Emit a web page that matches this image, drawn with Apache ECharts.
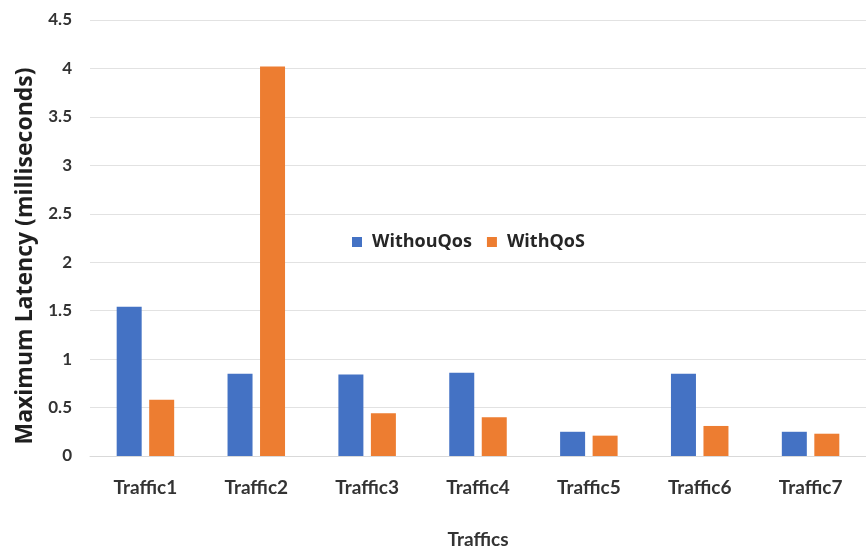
<!DOCTYPE html>
<html>
<head>
<meta charset="utf-8">
<script src="https://cdn.jsdelivr.net/npm/echarts@6/dist/echarts.min.js"></script>
<style>
  html, body { margin: 0; padding: 0; background: #ffffff; }
  #chart { width: 866px; height: 554px; }
</style>
</head>
<body>
<div id="chart"></div>
<script>
// Maximum latency per traffic class, with and without QoS
const categories = ['Traffic1', 'Traffic2', 'Traffic3', 'Traffic4', 'Traffic5', 'Traffic6', 'Traffic7'];
const withoutQos = [1.54, 0.85, 0.84, 0.86, 0.25, 0.85, 0.25];
const withQos = [0.58, 4.02, 0.44, 0.40, 0.21, 0.31, 0.23];
const seriesNames = ['WithouQos', 'WithQoS'];
const yTicks = { min: 0, max: 4.5, interval: 0.5 };

const chart = echarts.init(document.getElementById('chart'), null, { renderer: 'canvas' });

const tickFont = 'Lato, "Open Sans", sans-serif';
const titleFont = '"Open Sans", Lato, sans-serif';

chart.setOption({
  animation: false,
  backgroundColor: '#ffffff',
  grid: { left: 90, top: 20, width: 782, height: 444.5, containLabel: false },
  legend: {
    data: seriesNames,
    left: 352,
    top: 233,
    padding: 0,
    itemWidth: 10,
    itemHeight: 10,
    itemGap: 15,
    icon: 'rect',
    textStyle: { fontFamily: titleFont, fontSize: 18, fontWeight: 'bold', color: '#262626', padding: [0, 0, 0, 5] }
  },
  xAxis: {
    type: 'category',
    data: categories,
    name: 'Traffics',
    nameLocation: 'middle',
    nameGap: 74,
    nameTextStyle: { fontFamily: tickFont, fontSize: 19, fontWeight: 'bold', color: '#333333' },
    axisLine: { show: true, lineStyle: { color: '#d9d9d9' } },
    axisTick: { show: false },
    axisLabel: { margin: 22, fontFamily: tickFont, fontSize: 19, fontWeight: 'bold', color: '#333333' }
  },
  yAxis: {
    type: 'value',
    min: yTicks.min,
    max: yTicks.max,
    interval: yTicks.interval,
    name: 'Maximum Latency (milliseconds)',
    nameLocation: 'middle',
    nameGap: 51,
    nameRotate: 90,
    nameTextStyle: { fontFamily: titleFont, fontSize: 23, fontWeight: 'bold', color: '#1f1f1f', padding: [0, 36, 0, 0] },
    axisLine: { show: false },
    axisTick: { show: false },
    splitLine: { lineStyle: { color: '#e2e2e2' } },
    axisLabel: { margin: 18, fontFamily: tickFont, fontSize: 17, fontWeight: 'bold', color: '#333333' }
  },
  series: [
    {
      name: seriesNames[0],
      type: 'bar',
      data: withoutQos,
      barWidth: 25,
      barGap: '30%',
      itemStyle: { color: '#4472c4' }
    },
    {
      name: seriesNames[1],
      type: 'bar',
      data: withQos,
      barWidth: 25,
      itemStyle: { color: '#ed7d31' }
    }
  ]
});
</script>
</body>
</html>
